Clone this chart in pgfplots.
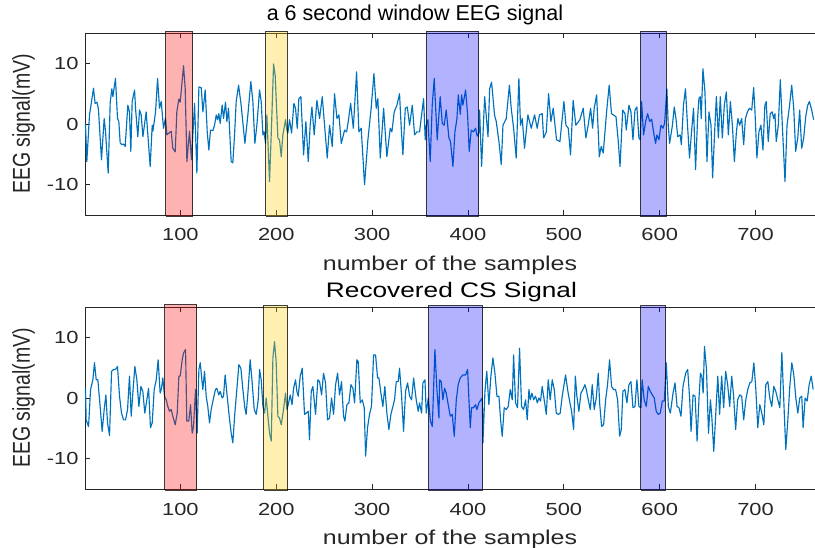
\documentclass[border=0pt]{standalone}
\usepackage{pgfplots}
\pgfplotsset{compat=1.18}
\usepackage{fontspec}
\setmainfont{Liberation Sans}[FakeStretch=1.25]
\newfontfamily\plainfont{Liberation Sans}
\definecolor{matblue}{RGB}{0,114,189}
\definecolor{axgray}{RGB}{38,38,38}
\definecolor{hlyellow}{RGB}{255,204,0}
\pgfplotsset{
  eegaxis/.style={
    scale only axis, width=730bp, height=182bp,
    xmin=0.5, xmax=762, ymin=-15, ymax=15,
    clip=false,
    axis x line=box, axis y line*=left,
    xtick={100,200,300,400,500,600,700}, ytick={-10,0,10},
    tick align=inside, major tick length=5bp,
    axis line style={axgray, line width=0.8bp},
    every tick/.style={axgray, line width=0.8bp},
    /pgf/number format/assume math mode=true,
    tick label style={font=\fontsize{17.5bp}{20bp}\selectfont, text=axgray},
    xticklabel style={anchor=base, yshift=-26bp},
    yticklabel style={anchor=east, xshift=-3bp},
    xlabel={number of the samples},
    xlabel style={at={(axis description cs:0.5,-0.305)}, anchor=base, font=\fontsize{20bp}{23bp}\selectfont, text=axgray},
    ylabel={\scalebox{1}[1.25]{\plainfont EEG signal(mV)}},
    ylabel style={at={(axis description cs:-0.084,0.5)}, anchor=center, font=\fontsize{19.5bp}{23bp}\selectfont, text=axgray},
    title style={anchor=base, text=black},
  },
  sig/.style={color=matblue, line width=1.15bp, line join=round},
  hl/.style={draw=black, draw opacity=0.75, line width=1bp, fill opacity=0.3},
}
\begin{document}
\begin{tikzpicture}
\useasboundingbox (0,0) rectangle (815bp,548bp);
% ---------------- top ----------------
\begin{axis}[eegaxis, at={(85bp,333bp)}, anchor=south west,
  title={\plainfont a 6 second window EEG signal},
  title style={at={(axis description cs:0.452,1.035)}, font=\fontsize{21.5bp}{24bp}\selectfont}]
\addplot[sig] coordinates {
(1,0) (2.4,-6.2) (5.2,1.5) (9.4,5.9) (11,3.4) (12.9,3.6) (14.5,2.5) (17.7,-5.9) (20.5,0.9) (21.9,-1.2) (24.7,-8.1) (26.8,3.6) (28.5,5.8) (29.6,4.5) (32.3,7.5) (34.4,0.9) (35.8,0.4) (37.2,-3.1) (38.9,-3.4) (40.7,-3.3) (42.4,-3.7) (45.2,3.1) (46.9,2) (48.3,-4.5) (49.7,3.7) (52.2,5.6) (53.2,2.6) (55.6,-2.1) (57.4,2.3) (59.1,1.5) (60.9,-2.1) (64.3,2) (68.5,-7) (70.6,-0.2) (71.3,-1.2) (74.1,2) (76.2,7.5) (78.2,2.6) (80,3.7) (82.4,-0.7) (84.5,1) (85.9,-1.8) (88.7,-1.4) (90.4,-1.2) (92.1,-4) (94.6,-4.6) (96.3,2) (98.4,4.1) (99.8,3.6) (103.3,9.6) (105,5.9) (106.8,-6.2) (109.5,-1.2) (111.6,-5.9) (114.8,3.4) (117.2,-8.1) (119.3,6.1) (121.7,6) (123.5,2) (125.9,5.6) (128,-1.3) (129.7,-4.3) (131.4,-1) (133.9,-1.1) (135.6,-0.2) (137.4,1.5) (138.8,0.7) (140.1,1.7) (141.5,0.1) (143.6,3.1) (145,0.9) (147.1,3.6) (148.5,0.4) (150.2,2.6) (153,-6.2) (154.7,-6.4) (156.5,-1.8) (158.2,3.7) (160.7,6.4) (163.4,3.1) (167.3,-3.2) (170.4,1.5) (173.5,7) (175.6,3.7) (177.7,-3.2) (179.8,-0.2) (182.6,5.6) (184.3,3.7) (186.1,-1.8) (187.4,-1.3) (188.8,-3.2) (190.2,1.5) (193,-9.5) (195.1,-0.2) (197.2,9.9) (198.9,8) (201.7,-2.3) (203.4,-2.6) (205.2,-5.4) (206.9,-1.8) (209.7,0.7) (211.1,-1) (212.1,-1.5) (213.9,0.7) (216,-1.5) (218.4,3.4) (220.1,2.6) (221.9,-0.7) (223.6,4.2) (225.7,4.5) (227.1,-0.2) (228.5,-5.1) (230.9,0.4) (233.4,-6.2) (235.4,-0.2) (237.2,2.8) (239.6,-1.8) (242.4,3.9) (245.2,0.9) (248,4.5) (250.4,-0.2) (253.2,-5.6) (255.6,-0.2) (258.4,-3.7) (260.8,5) (263.3,0.9) (265.4,1.5) (267.8,-3.2) (271.3,-1) (273.4,-1.3) (275.1,0.4) (277.6,3.4) (280.4,-0.7) (283.8,8.6) (286.2,-1.3) (288.6,-0.7) (292.1,-10) (295.6,-2.6) (299,2.6) (301.9,8.3) (304.3,2.6) (306,4.2) (308.5,-5.6) (312,2.6) (315.4,-5.4) (318.9,-0.7) (320.6,-1.3) (323.1,2) (325.9,3.1) (328.6,5) (330.4,-0.7) (332.1,-5.1) (334.6,2.6) (336.7,2.8) (339.1,-0.2) (341.9,3.1) (344.3,-1.8) (346.7,-1.3) (349.5,-1.3) (353.7,4.2) (355.4,-2.6) (356.5,-0.2) (358.2,0.7) (360.6,-6.2) (362.7,3.1) (364.8,7.5) (367.9,-2.6) (371,4.5) (373.2,0.1) (375.2,-0.2) (377.3,2.3) (380.1,-2.3) (381.8,-2.9) (384.3,-7) (386.4,-1.3) (388.5,0.9) (389.9,4.8) (392,1.6) (393.4,4.8) (394.7,3.1) (397.5,5.6) (399.6,1.5) (401.3,-4.5) (403.4,-1) (405.8,-1.3) (407.9,-0.7) (409.7,-2) (411.4,-1.5) (412.1,2.3) (414.2,-7) (417.4,4.5) (420.9,-2.1) (422.6,5.8) (424.6,6.9) (427.7,1.5) (429.5,0.4) (432.3,-2.9) (434.7,-6.7) (436.5,-0.2) (439.9,0.9) (443.2,6.4) (445.1,2.6) (447.6,-0.7) (450.3,-5.6) (453.1,7.5) (454.8,-0.2) (456.6,0.9) (459,-4) (462.5,1.5) (466,-0.7) (469.5,1.5) (472.2,-0.7) (474.6,1.5) (477.4,1.7) (478.9,-2.3) (481.7,-1.3) (484.1,5) (486.5,0.4) (488.9,2.6) (492.4,-2.6) (495.9,-2.9) (500.1,3.7) (502.2,-0.2) (504.6,-0.7) (507,-5.1) (509.7,3.9) (512.5,-0.2) (516.7,0.7) (520.2,2.6) (523,-2.3) (525.4,-0.2) (527.9,2.6) (530,-0.7) (531.7,2.6) (534.2,4.8) (537,-5.4) (539,-3.7) (541.1,-4.8) (544.6,2) (547.3,6.4) (549.7,1.7) (551.6,1.5) (554.4,1.2) (556.8,-2.9) (558.6,-7) (561.4,2.3) (563.8,1.7) (565.1,-1) (567.9,3.1) (570,2) (572.1,-2.6) (574.2,2.3) (576.2,2.8) (578.3,-2.3) (579.7,-2.6) (581.1,3.7) (583.2,-1.8) (585.3,0.4) (587.4,1.7) (589.5,0.4) (591.6,0.8) (593.6,-1.3) (595.7,-3.2) (597.1,-1.8) (599.2,-2.6) (601.3,-0.2) (603.4,-0.7) (605.1,0.1) (607.5,5.8) (608.9,-0.2) (610.3,-3.2) (613.1,-0.4) (615.2,2.8) (617.1,0.7) (618.8,-2.1) (621.3,-1.8) (622.6,-3.4) (624.8,3.1) (626.9,5.8) (629,-0.2) (631.1,-5.6) (633.2,-1.3) (635.3,2.6) (637.4,-7.5) (639.5,0.9) (640.9,4.2) (642.3,4.5) (643.3,0.9) (645.1,9.1) (647.2,5.3) (649.3,-6.2) (651.4,2) (653.5,-0.2) (655.2,-8.9) (657.3,-1.3) (659.1,4.5) (661.2,-2.3) (663.2,4.5) (665.3,-2.3) (667.4,3.1) (669.5,5.3) (671.6,-1.8) (673.7,3.7) (675.8,-0.2) (677.9,-6.2) (680,-1.3) (681.6,0.9) (683.4,-0.2) (685.5,0.9) (687.6,-3.4) (689.4,0.9) (691.5,2) (693.6,2.6) (696,2.3) (698,6) (699.4,2) (701.4,-5.6) (703.5,-1.3) (705.6,-0.2) (707.7,-4.3) (709.7,3.1) (711.1,3.7) (713.2,-2.9) (715.3,1.7) (717.4,2) (718.8,0.9) (720.2,1.7) (721.6,-2.9) (723.7,-0.2) (725.8,7.3) (727.9,-0.2) (730.7,-9.5) (732.8,-0.2) (735.5,3.1) (737.7,6.4) (739.8,2.6) (741.8,-4.5) (744,-2.3) (746,2.3) (748.1,-4) (750.2,-2.3) (752.3,1.2) (754.4,3.1) (756.2,3.7) (758.5,2.3) (760.6,0.7)
};
\addplot[hl, fill=red] coordinates {(84.5,-15.2) (113,-15.2) (113,15.3) (84.5,15.3) (84.5,-15.2)};
\addplot[hl, fill=hlyellow] coordinates {(189.3,-15.2) (211.3,-15.2) (211.3,15.3) (189.3,15.3) (189.3,-15.2)};
\addplot[hl, fill=blue] coordinates {(356.5,-15.2) (411.4,-15.2) (411.4,15.3) (356.5,15.3) (356.5,-15.2)};
\addplot[hl, fill=blue] coordinates {(579.7,-15.2) (606.9,-15.2) (606.9,15.3) (579.7,15.3) (579.7,-15.2)};
\end{axis}
% ---------------- bottom ----------------
\begin{axis}[eegaxis, at={(85bp,59bp)}, anchor=south west,
  title={Recovered CS Signal},
  title style={at={(axis description cs:0.502,1.018)}, font=\fontsize{21bp}{24bp}\selectfont}]
\addplot[sig] coordinates {
(1,1.6) (1.7,-3.6) (4.2,-4.7) (6.3,1.4) (8.7,3) (10.4,5.8) (12.2,3) (13.9,3) (16.3,-1.4) (18.4,-5.5) (20.5,-1.9) (22.3,0.5) (24,-4.1) (26.1,-6.2) (28.2,4.4) (30.3,4.7) (32.3,4.7) (34.4,5.2) (36.5,0.3) (38.6,-2.5) (40.7,-3.6) (42.8,-3.6) (44.9,-1.9) (46.9,3.6) (48.7,-3) (50.4,0.8) (52.5,5.2) (54.6,3) (56.7,-1.4) (58.8,1.9) (60.8,1.1) (62.9,-2.5) (65,-0.3) (66.8,1.6) (68.8,-4.9) (70.6,-4.1) (72.7,1.4) (74.8,3) (76.8,6.3) (78.9,0.8) (80.3,1.6) (81.7,3.3) (83.4,0.3) (85.2,-0.3) (86.9,-1.4) (88.7,-2.2) (90.4,-1.9) (92.1,-3) (94.6,-4.4) (96.7,-2.5) (98.4,3.6) (99.8,3.6) (101.9,6.3) (103.3,7.4) (105.4,8) (106.7,-3.8) (108.8,-3.8) (110.6,-1.1) (112.3,-5.8) (113.7,-4.7) (115.8,1.4) (117.5,-5.8) (119.3,4.7) (120.7,5.8) (123.4,1.4) (125.2,4.4) (126.9,0.3) (128.6,-1.4) (130.4,-4.1) (132.1,-1.9) (134.6,0) (136.6,1.4) (138,1.6) (140.1,0.5) (141.5,1.1) (143.6,0) (145,0.3) (146.7,3.8) (148.5,0.8) (150.6,-2.5) (153,-5.8) (154.7,-7.4) (156.8,-2.5) (158.9,1.4) (161,5.5) (163.1,4.9) (165.2,1.4) (167.2,-1.6) (168.6,-2.7) (170.7,1.4) (172.8,6.3) (174.9,2.5) (177,-1.9) (179.1,-2.7) (181.2,-0.3) (182.6,4.7) (184.3,3) (186.1,-1.4) (187.8,-2.5) (189.5,0) (191.3,-3) (193,-5.8) (194.8,-7.1) (196.5,6.6) (198.2,9.3) (199.9,6) (201.7,-3) (203.4,-3.3) (205.2,-4.4) (207.6,-1.9) (209.7,0.8) (211.1,-1.9) (212.5,-1.1) (214.6,0.5) (216.5,-1.1) (218.1,1.6) (220.1,3) (221.5,1.1) (222.9,0.3) (225,3.6) (227.1,4.9) (229.5,-2.7) (231.3,-2.5) (233.4,-2.2) (234.7,-6.9) (236.5,1.1) (238.2,1.9) (241,-2.7) (243.4,3) (245.2,2.7) (247.3,0.5) (249.3,4.1) (251.4,2.5) (253.5,-3.6) (255.6,-3.3) (257.7,0) (259.8,-2.7) (261.9,2.2) (264,4.1) (266,0.5) (268.1,2.7) (270.2,-3) (271.6,-3.8) (273.7,-1.1) (275.8,-0.8) (277.9,2.2) (280,1.6) (281.7,-0.8) (284.1,6.3) (285.5,6) (287.6,-0.8) (289.7,-0.3) (291.8,-1.6) (293.2,-9.6) (295.2,-4.9) (297.3,-2.7) (299.4,-1.3) (301.5,7.1) (303.6,7.1) (305.7,3.3) (307.1,3.3) (309.2,0.8) (311.2,-1.4) (313.3,1.9) (315.4,-2.5) (317.5,-5.2) (319.6,-2.7) (321.7,-1.4) (323.4,-0.3) (325.2,2.7) (327.2,2.7) (328.6,4.9) (330.7,0.5) (332.8,-5.5) (334.9,1.1) (337,2.5) (339.1,0.3) (341.2,-0.3) (343.3,3.3) (344.7,1.4) (346,-0.3) (348.1,-2.2) (349.5,-0.8) (351.6,-2.5) (353,2.5) (355.1,3) (356.5,-2.5) (358.6,0) (360.8,-3.8) (362.8,-4.7) (365.5,8) (367.6,1.4) (369.7,-3.3) (370.4,3) (372.1,2.7) (373.8,-0.3) (375.6,1.6) (377.3,0.8) (379.4,-1.1) (381.5,-3) (383.6,-2.7) (385.7,-6.3) (387.8,-0.3) (389.8,2.2) (391.9,3.3) (394.7,3.8) (397.5,3.8) (399.6,4.7) (401,-0.3) (402.4,-4.9) (403.7,-1.6) (405.8,-1.6) (407.9,-1.1) (409.3,-1.9) (411.4,-0.8) (413.5,-0.3) (414.9,0) (415.6,-7.4) (417.7,1.1) (419.6,4.4) (421.8,-1.1) (423.9,3.6) (426,6.6) (428.1,4.1) (430.2,0.3) (432.3,0.3) (434,-3.6) (435.7,-6.3) (437.8,-1.6) (439.9,-1.9) (442,-1.4) (444.1,1.4) (446.2,-0.3) (447.6,7.1) (449.6,-0.8) (451.7,-1.6) (453.8,8.2) (455.9,-1.4) (458,-1.9) (460.1,-0.3) (461.8,-3.6) (463.6,1.4) (465,-0.3) (466.7,0.8) (468.5,-0.3) (470.5,0.3) (472.3,-0.8) (474,0) (475.7,-0.5) (477.4,1.9) (479.5,-0.3) (481.7,-2.7) (483.7,3) (485.8,-0.3) (487.9,3) (490,1.4) (492.1,-2.5) (494.2,-2.7) (496.2,-2.5) (498.3,0.3) (501.8,3.8) (503.9,1.4) (506,-0.5) (508.1,-2.2) (510.2,-5.2) (512,3.6) (513.6,0.3) (515.7,-2.2) (517.8,0.8) (519.9,1.4) (522,2.2) (523.4,1.4) (525.5,-0.3) (527.6,-1.9) (529.6,2.2) (531.7,-1.9) (533.8,0) (535.9,4.1) (537.3,-0.8) (539.4,-4.7) (541.5,-4.4) (543.6,-0.3) (545.6,2.2) (547.7,6.3) (549.8,1.9) (551.9,1.4) (554,1.4) (556.1,-0.3) (558.2,-6.3) (559.9,-5.2) (561.6,1.1) (563.7,1.4) (565.8,-0.8) (567.9,2.2) (570,2.7) (572.1,-1.6) (574.2,-1.4) (576.2,3) (578.3,-1.4) (580.4,-1.6) (581.7,3) (583.8,-0.3) (586,-1.4) (588.1,1.9) (590.2,1.1) (592.3,0.5) (594.3,0) (596.4,-2.2) (598.5,-2.7) (600.6,-2.5) (602.7,-0.5) (604.8,-0.5) (606.9,5.8) (609,-1.4) (611.1,-2.5) (613.9,0.8) (616,2.5) (618.1,-1.4) (620.1,-1.6) (622.2,-3) (624.3,1.9) (627.1,4.1) (629.2,4.7) (631.3,-0.3) (632.7,-5.5) (634.8,0.5) (636.9,0.3) (639,-7.1) (641.1,0.3) (642.5,4.1) (643.9,3.6) (645.3,0.8) (646.7,8.5) (648.8,4.7) (650.9,-5.8) (652.9,-0.3) (654.3,-3) (656.4,-8.8) (658.5,-2.5) (660.6,3.6) (662.5,-2.7) (664.6,3.6) (666.7,-1.6) (668.8,4.4) (670.9,2.2) (673,-1.4) (675.1,3.6) (677.1,0.3) (679.2,-5.2) (681.3,-0.3) (683.4,0.5) (685.5,0.3) (687.6,-3.6) (689.8,-0.3) (691.9,1.4) (694,2.5) (696.1,2.7) (698.2,5.8) (700.2,1.6) (702.3,-4.9) (704.4,-1.1) (706.5,-2.5) (708.6,-4.4) (710.7,2.2) (712.8,2.7) (714.8,0) (716.9,-1.4) (719,1.9) (721.1,1.1) (723.2,-0.3) (725.3,-1.6) (727.4,7.5) (729.4,-0.3) (731.5,-8.5) (733.6,-3.8) (735.7,1.9) (737.8,5.8) (739.9,3.8) (742,0) (744.1,-2.5) (746.1,0) (748.2,0.3) (749.6,-4.9) (751.7,0) (753.8,-0.5) (755.9,2.2) (758,3.6) (760.1,1.4)
};
\addplot[hl, fill=red] coordinates {(83.8,-15.2) (117.2,-15.2) (117.2,15.4) (83.8,15.4) (83.8,-15.2)};
\addplot[hl, fill=hlyellow] coordinates {(186.8,-15.2) (212.1,-15.2) (212.1,15.2) (186.8,15.2) (186.8,-15.2)};
\addplot[hl, fill=blue] coordinates {(358.6,-15.2) (415.6,-15.2) (415.6,15.2) (358.6,15.2) (358.6,-15.2)};
\addplot[hl, fill=blue] coordinates {(580.4,-15.2) (606.2,-15.2) (606.2,15.2) (580.4,15.2) (580.4,-15.2)};
\end{axis}
\end{tikzpicture}
\end{document}
